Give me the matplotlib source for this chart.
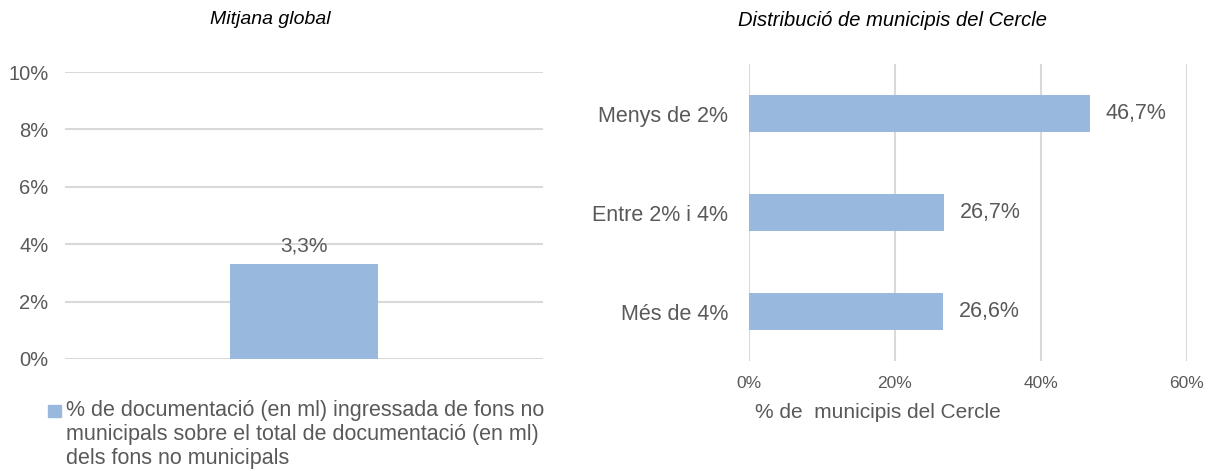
import matplotlib.pyplot as plt
from matplotlib.ticker import FuncFormatter
from matplotlib.patches import Rectangle

plt.rcParams['font.family'] = ['Liberation Sans', 'DejaVu Sans']

# Left chart data
global_label = ("% de documentació (en ml) ingressada de fons no\n"
                "municipals sobre el total de documentació (en ml)\n"
                "dels fons no municipals")
global_value = [3.3]

# Right chart data
categories = ["Menys de 2%", "Entre 2% i 4%", "Més de 4%"]
shares = [46.7, 26.7, 26.6]

bar_color = "#98b8de"
grid_color = "#d9d9d9"
text_color = "#595959"

W, H = 1215, 471


def comma_pct(v, decimals=1):
    return f"{v:.{decimals}f}%".replace(".", ",")


fig = plt.figure(figsize=(W / 100, H / 100), dpi=100)

# Left: global average
ax1 = fig.add_axes([65 / W, 1 - 359 / H, 478 / W, 287 / H])
ax1.bar([0], global_value, width=0.31, color=bar_color, zorder=3)
ax1.set_xlim(-0.5, 0.5)
ax1.set_ylim(0, 10)
ax1.set_yticks(range(0, 11, 2))
ax1.yaxis.set_major_formatter(FuncFormatter(lambda v, p: f"{int(v)}%"))
ax1.set_xticks([])
ax1.grid(axis="y", color=grid_color, linewidth=1.5, zorder=0)
for s in ax1.spines.values():
    s.set_visible(False)
ax1.tick_params(axis="y", length=0, labelsize=14.5, labelcolor=text_color, pad=12)
for i, v in enumerate(global_value):
    ax1.text(i, v + 0.3, comma_pct(v), ha="center", va="bottom",
             fontsize=15, color=text_color)
fig.text(270 / W, 1 - 20 / H, "Mitjana global", fontsize=14, style="italic",
         color="black", ha="center", va="center")

# legend drawn by hand so the key sits beside the first line
fig.patches.append(Rectangle((48 / W, 1 - 417 / H), 13 / W, 12 / H,
                             transform=fig.transFigure, color=bar_color))
fig.text(66 / W, 1 - 400 / H, global_label, fontsize=15.5, color=text_color,
         ha="left", va="top", linespacing=1.2)

# Right: distribution of municipalities
ax2 = fig.add_axes([749 / W, 1 - 361 / H, 438 / W, 297 / H])
ypos = list(range(len(categories)))
ax2.barh(ypos, shares, height=0.364, color=bar_color, zorder=3)
ax2.set_ylim(len(categories) - 0.5, -0.5)
ax2.set_xlim(0, 60)
ax2.set_xticks(range(0, 61, 20))
ax2.xaxis.set_major_formatter(FuncFormatter(lambda v, p: f"{int(v)}%"))
ax2.set_yticks(ypos)
ax2.set_yticklabels(categories)
ax2.grid(axis="x", color=grid_color, linewidth=1.5, zorder=0)
for s in ax2.spines.values():
    s.set_visible(False)
ax2.tick_params(axis="y", length=0, labelsize=15.5, labelcolor=text_color, pad=15)
ax2.tick_params(axis="x", length=0, labelsize=12.5, labelcolor=text_color, pad=11)
for y, v in zip(ypos, shares):
    ax2.text(v + 2.2, y, comma_pct(v), ha="left", va="center",
             fontsize=15.5, color=text_color)
fig.text(878 / W, 1 - 412 / H, "% de  municipis del Cercle", fontsize=15,
         color=text_color, ha="center", va="center")
fig.text(892 / W, 1 - 20 / H, "Distribució de municipis del Cercle",
         fontsize=14.5, style="italic", color="black", ha="center", va="center")

plt.savefig("out.png", dpi=100)
